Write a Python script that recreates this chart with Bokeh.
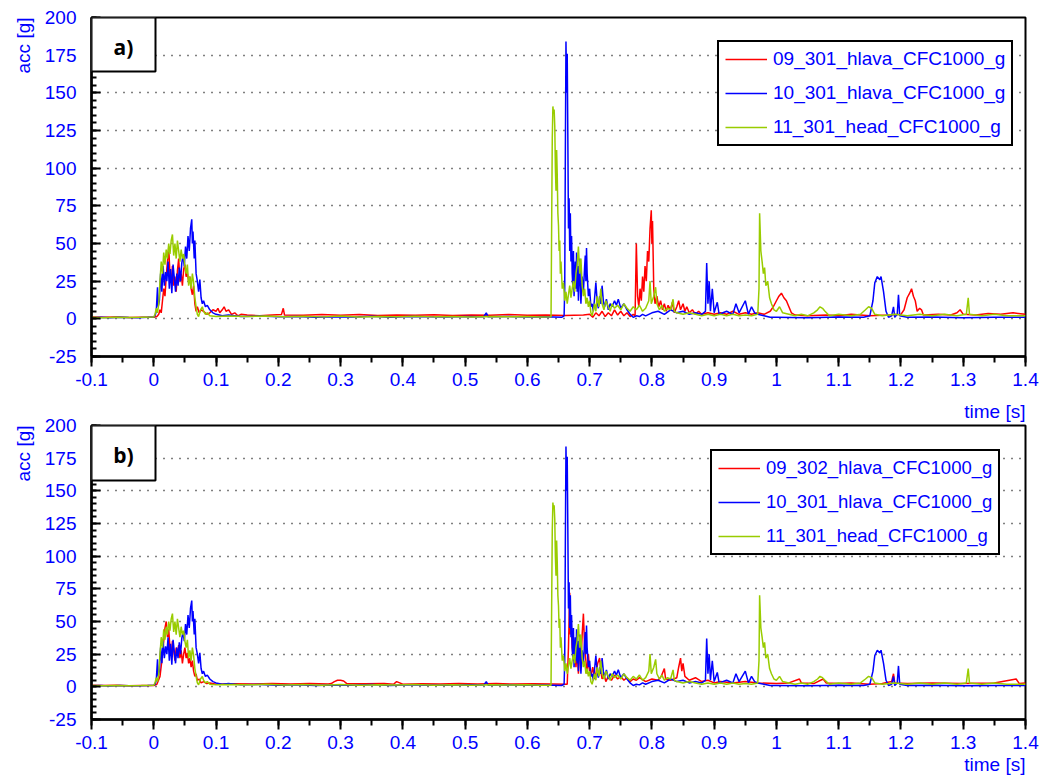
import numpy as np
from bokeh.plotting import figure
from bokeh.models import (Range1d, FixedTicker, Legend, LegendItem, BoxAnnotation,
                          Label, Title)
from bokeh.layouts import column
from bokeh.embed import file_html
from bokeh.resources import INLINE

# ---- axis ticks -----------------------------------------------------------
x_ticks = [-0.1, 0, 0.1, 0.2, 0.3, 0.4, 0.5, 0.6, 0.7, 0.8, 0.9, 1, 1.1, 1.2, 1.3, 1.4]
x_tick_labels = ["-0.1", "0", "0.1", "0.2", "0.3", "0.4", "0.5", "0.6", "0.7", "0.8",
                 "0.9", "1", "1.1", "1.2", "1.3", "1.4"]
y_ticks = [-25, 0, 25, 50, 75, 100, 125, 150, 175, 200]
y_tick_labels = ["-25", "0", "25", "50", "75", "100", "125", "150", "175", "200"]

# ---- measured head accelerations: (time [s], acc [g]) -----------------------
acc_10_301_hlava = [
    (-0.100, 0.8), (-0.085, 1.0), (-0.070, 0.7), (-0.055, 1.1), (-0.040, 0.9), (-0.025, 0.8),
    (-0.010, 1.0), (0.000, 1.2), (0.002, 2), (0.004, 5), (0.006, 21), (0.007, 8), (0.009, 12),
    (0.011, 30), (0.013, 18), (0.015, 35), (0.017, 22), (0.019, 31), (0.021, 25), (0.023, 38),
    (0.025, 20), (0.027, 33), (0.029, 17), (0.031, 36), (0.033, 27), (0.035, 18), (0.037, 30),
    (0.039, 22), (0.041, 34), (0.043, 25), (0.045, 37), (0.047, 42), (0.049, 35), (0.051, 48),
    (0.053, 40), (0.055, 55), (0.057, 45), (0.059, 60), (0.061, 66), (0.062, 50), (0.063, 58),
    (0.065, 40), (0.066, 52), (0.068, 30), (0.070, 25), (0.072, 18), (0.074, 26), (0.076, 14),
    (0.078, 10), (0.080, 12), (0.083, 8), (0.086, 9), (0.090, 6), (0.095, 4), (0.100, 3),
    (0.110, 2), (0.120, 2.5), (0.140, 1.5), (0.170, 1.8), (0.200, 1.3), (0.230, 1.6),
    (0.260, 1.0), (0.290, 1.4), (0.320, 1.2), (0.350, 1.7), (0.380, 1.1), (0.410, 1.5),
    (0.440, 1.3), (0.470, 1.2), (0.500, 1.6), (0.530, 1.4), (0.534, 4), (0.537, 1.3),
    (0.570, 1.5), (0.600, 1.2), (0.630, 1.4), (0.655, 1.0), (0.659, 2),
    (0.660, 20), (0.661, 110), (0.662, 184), (0.663, 150), (0.664, 176), (0.665, 120),
    (0.666, 60), (0.667, 80), (0.668, 45), (0.669, 70), (0.670, 38), (0.671, 55), (0.672, 30),
    (0.673, 22), (0.674, 45), (0.675, 15), (0.676, 28), (0.677, 38), (0.678, 20), (0.679, 44),
    (0.680, 18), (0.681, 35), (0.682, 12), (0.683, 30), (0.684, 40), (0.685, 22), (0.686, 10),
    (0.688, 28), (0.690, 18), (0.692, 35), (0.693, 42), (0.694, 25), (0.695, 47), (0.696, 30),
    (0.698, 15), (0.700, 20), (0.702, 8), (0.704, 10), (0.706, 5), (0.708, 14), (0.710, 24),
    (0.712, 12), (0.714, 7), (0.716, 15), (0.718, 10), (0.720, 22), (0.722, 12), (0.724, 8),
    (0.727, 13), (0.730, 6), (0.733, 10), (0.736, 8), (0.740, 12), (0.743, 9), (0.746, 13),
    (0.750, 7), (0.755, 10), (0.760, 6), (0.765, 3), (0.770, 1), (0.775, 2), (0.780, 1.5),
    (0.785, 3), (0.790, 2), (0.800, 4), (0.810, 5), (0.820, 3), (0.830, 6), (0.840, 4),
    (0.850, 5), (0.860, 3), (0.870, 4), (0.880, 3), (0.886, 5), (0.888, 37), (0.890, 10),
    (0.892, 25), (0.894, 5), (0.897, 20), (0.900, 4), (0.905, 11), (0.908, 3), (0.920, 5),
    (0.930, 3), (0.935, 10), (0.940, 4), (0.950, 12), (0.955, 3), (0.960, 8), (0.965, 4),
    (0.970, 3), (0.980, 2), (0.990, 1), (1.000, 1), (1.050, 0.8), (1.100, 1.2), (1.140, 1),
    (1.150, 2), (1.155, 12), (1.158, 24), (1.162, 28), (1.166, 26), (1.168, 28), (1.172, 18),
    (1.176, 5), (1.180, 1), (1.185, 2), (1.188, 8), (1.190, 1), (1.194, 3), (1.196, 16),
    (1.198, 2), (1.210, 1), (1.250, 1.2), (1.300, 0.8), (1.350, 1), (1.400, 1),
]

acc_11_301_head = [
    (-0.100, 1.0), (-0.080, 0.8), (-0.060, 1.1), (-0.040, 0.9), (-0.020, 1.0), (0.000, 1.2),
    (0.002, 3), (0.004, 7), (0.006, 4), (0.008, 10), (0.010, 25), (0.012, 38), (0.014, 30),
    (0.016, 44), (0.018, 36), (0.020, 46), (0.022, 40), (0.024, 50), (0.026, 43), (0.028, 52),
    (0.030, 56), (0.032, 42), (0.034, 50), (0.036, 40), (0.038, 52), (0.040, 45), (0.042, 38),
    (0.044, 46), (0.046, 40), (0.048, 43), (0.050, 35), (0.052, 30), (0.054, 36), (0.056, 22),
    (0.058, 28), (0.060, 20), (0.062, 30), (0.064, 24), (0.066, 14), (0.068, 8), (0.070, 3),
    (0.072, 1.5), (0.075, 6), (0.078, 8), (0.080, 5), (0.083, 3), (0.086, 4), (0.090, 2),
    (0.100, 1.5), (0.120, 1.8), (0.150, 1.5), (0.180, 1.9), (0.210, 1.4), (0.240, 1.7),
    (0.270, 1.3), (0.300, 1.8), (0.330, 1.2), (0.360, 1.6), (0.390, 1.4), (0.420, 1.7),
    (0.450, 1.3), (0.480, 1.5), (0.510, 1.2), (0.540, 1.6), (0.570, 1.4), (0.600, 1.5),
    (0.620, 1.2), (0.638, 1.3), (0.640, 120), (0.641, 141), (0.642, 136), (0.643, 139),
    (0.644, 128), (0.645, 100), (0.646, 85), (0.647, 112), (0.648, 95), (0.649, 70),
    (0.650, 62), (0.651, 45), (0.652, 52), (0.653, 30), (0.654, 38), (0.656, 20), (0.658, 24),
    (0.660, 12), (0.662, 18), (0.664, 10), (0.666, 16), (0.668, 22), (0.670, 14), (0.672, 20),
    (0.674, 25), (0.676, 18), (0.678, 30), (0.680, 36), (0.682, 48), (0.684, 30), (0.686, 40),
    (0.688, 22), (0.690, 15), (0.692, 20), (0.694, 10), (0.696, 14), (0.698, 8), (0.700, 12),
    (0.702, 4), (0.704, 2), (0.706, 6), (0.708, 10), (0.710, 5), (0.712, 15), (0.715, 8),
    (0.718, 20), (0.720, 10), (0.723, 6), (0.726, 12), (0.730, 8), (0.733, 5), (0.736, 10),
    (0.740, 7), (0.745, 9), (0.750, 6), (0.755, 10), (0.760, 7), (0.765, 5), (0.770, 8),
    (0.775, 6), (0.780, 9), (0.785, 5), (0.790, 7), (0.795, 12), (0.797, 25), (0.799, 10),
    (0.803, 15), (0.806, 21), (0.808, 10), (0.812, 6), (0.816, 9), (0.820, 5), (0.825, 7),
    (0.830, 6), (0.834, 13), (0.836, 5), (0.840, 4), (0.850, 3), (0.860, 4), (0.870, 3),
    (0.880, 2), (0.890, 3), (0.900, 2), (0.910, 3), (0.920, 2), (0.930, 3), (0.940, 2),
    (0.950, 2.5), (0.960, 2), (0.970, 3), (0.972, 20), (0.973, 70), (0.975, 45), (0.977, 38),
    (0.979, 30), (0.981, 34), (0.983, 22), (0.986, 25), (0.989, 14), (0.992, 10), (0.996, 6),
    (1.000, 5), (1.005, 8), (1.010, 4), (1.020, 3), (1.030, 2), (1.040, 3), (1.050, 2),
    (1.060, 4), (1.066, 6), (1.070, 8), (1.074, 7), (1.078, 5), (1.085, 2), (1.100, 3),
    (1.120, 2), (1.135, 3), (1.143, 6), (1.148, 8), (1.153, 7), (1.158, 3), (1.170, 2),
    (1.190, 3), (1.210, 2), (1.230, 3), (1.250, 2), (1.270, 3), (1.290, 2), (1.305, 3),
    (1.308, 14), (1.310, 3), (1.330, 2), (1.350, 3), (1.370, 2), (1.400, 2),
]

acc_09_301_hlava = [
    (-0.100, 1.2), (-0.080, 1.0), (-0.060, 1.3), (-0.040, 0.9), (-0.020, 1.1), (0.000, 1.0),
    (0.005, 1.5), (0.008, 3), (0.010, 6), (0.012, 4), (0.014, 12), (0.016, 20), (0.018, 15),
    (0.020, 28), (0.022, 38), (0.024, 47), (0.026, 30), (0.028, 24), (0.030, 35), (0.032, 22),
    (0.034, 28), (0.036, 18), (0.038, 32), (0.040, 40), (0.042, 25), (0.044, 30), (0.046, 22),
    (0.048, 33), (0.050, 36), (0.052, 28), (0.054, 30), (0.056, 25), (0.058, 28), (0.060, 20),
    (0.062, 16), (0.064, 22), (0.066, 10), (0.068, 5), (0.070, 8), (0.073, 4), (0.076, 6),
    (0.080, 5), (0.085, 3), (0.090, 4), (0.095, 6), (0.100, 5), (0.103, 7), (0.106, 4),
    (0.110, 6), (0.113, 8), (0.116, 5), (0.120, 6), (0.125, 3), (0.130, 4), (0.135, 2),
    (0.140, 3), (0.150, 2.5), (0.170, 2), (0.190, 2.5), (0.205, 2.8), (0.208, 7), (0.210, 2.5),
    (0.240, 2.3), (0.270, 2.8), (0.300, 2.4), (0.330, 2.9), (0.360, 2.2), (0.390, 2.6),
    (0.420, 2.3), (0.450, 2.7), (0.480, 2.2), (0.510, 2.6), (0.540, 2.4), (0.570, 2.8),
    (0.600, 2.3), (0.630, 2.5), (0.660, 2.2), (0.690, 2.6), (0.700, 3), (0.705, 1), (0.710, 4),
    (0.715, 2), (0.720, 5), (0.725, 1.5), (0.730, 4), (0.735, 2), (0.740, 6), (0.745, 2.5),
    (0.750, 5), (0.755, 2), (0.760, 4), (0.765, 1.5), (0.770, 3), (0.773, 2), (0.775, 50),
    (0.777, 15), (0.779, 8), (0.781, 20), (0.783, 12), (0.785, 28), (0.787, 18), (0.789, 35),
    (0.791, 25), (0.793, 45), (0.795, 38), (0.797, 60), (0.799, 72), (0.800, 50), (0.801, 65),
    (0.803, 20), (0.805, 10), (0.808, 15), (0.811, 8), (0.814, 12), (0.817, 6), (0.820, 10),
    (0.823, 5), (0.826, 9), (0.830, 6), (0.833, 11), (0.836, 4), (0.840, 8), (0.843, 12),
    (0.846, 6), (0.850, 10), (0.853, 5), (0.856, 8), (0.860, 4), (0.865, 6), (0.870, 3),
    (0.875, 5), (0.880, 3), (0.890, 4), (0.900, 3), (0.910, 4), (0.920, 3), (0.930, 5),
    (0.940, 3), (0.950, 4), (0.960, 3), (0.970, 4), (0.980, 3), (0.990, 5), (0.995, 8),
    (1.000, 12), (1.004, 15), (1.008, 17), (1.012, 14), (1.016, 12), (1.020, 8), (1.024, 4),
    (1.030, 2.5), (1.050, 2), (1.080, 2.5), (1.100, 2), (1.120, 3), (1.150, 2), (1.180, 2.5),
    (1.200, 3), (1.205, 6), (1.210, 14), (1.214, 17), (1.217, 20), (1.220, 15), (1.223, 12),
    (1.226, 5), (1.230, 7), (1.233, 6), (1.236, 2.5), (1.260, 3), (1.280, 2.5), (1.290, 4),
    (1.295, 6), (1.300, 3), (1.320, 2.5), (1.340, 3.5), (1.360, 3), (1.380, 4), (1.400, 3),
]

acc_09_302_hlava = [
    (-0.100, 1.2), (-0.080, 1.0), (-0.060, 1.3), (-0.040, 0.9), (-0.020, 1.1), (0.000, 1.0),
    (0.005, 2), (0.010, 8), (0.013, 20), (0.016, 35), (0.018, 45), (0.020, 50), (0.022, 38),
    (0.024, 44), (0.026, 30), (0.028, 25), (0.030, 35), (0.032, 28), (0.034, 20), (0.036, 30),
    (0.038, 25), (0.040, 32), (0.042, 22), (0.044, 28), (0.046, 18), (0.048, 25), (0.050, 30),
    (0.052, 22), (0.054, 26), (0.056, 18), (0.058, 22), (0.060, 15), (0.062, 20), (0.064, 12),
    (0.066, 8), (0.068, 10), (0.070, 5), (0.073, 6), (0.076, 3), (0.080, 4), (0.085, 2.5),
    (0.090, 3), (0.100, 2), (0.130, 2.4), (0.160, 2.1), (0.190, 2.6), (0.220, 2.2),
    (0.250, 2.5), (0.280, 2.2), (0.285, 2.5), (0.290, 4), (0.295, 5), (0.300, 5), (0.305, 4.5),
    (0.310, 2.5), (0.340, 2.3), (0.370, 2.6), (0.385, 2), (0.390, 4), (0.395, 3), (0.400, 2),
    (0.430, 2.4), (0.460, 2.1), (0.490, 2.6), (0.520, 2.2), (0.550, 2.5), (0.580, 2.1),
    (0.610, 2.4), (0.640, 2.2), (0.664, 2), (0.666, 30), (0.668, 72), (0.669, 40), (0.670, 55),
    (0.672, 30), (0.674, 20), (0.676, 35), (0.678, 15), (0.680, 25), (0.682, 10), (0.684, 30),
    (0.686, 18), (0.688, 40), (0.690, 56), (0.692, 30), (0.694, 20), (0.696, 10), (0.698, 25),
    (0.700, 12), (0.702, 8), (0.705, 15), (0.708, 6), (0.710, 10), (0.713, 18), (0.716, 22),
    (0.718, 12), (0.720, 6), (0.723, 10), (0.726, 4), (0.730, 8), (0.735, 5), (0.740, 9),
    (0.745, 6), (0.750, 8), (0.755, 5), (0.760, 7), (0.765, 4), (0.770, 6), (0.775, 5),
    (0.780, 7), (0.790, 4), (0.800, 6), (0.810, 5), (0.815, 8), (0.820, 14), (0.822, 6),
    (0.830, 5), (0.840, 7), (0.843, 15), (0.846, 22), (0.848, 12), (0.850, 18), (0.853, 8),
    (0.860, 5), (0.870, 7), (0.880, 4), (0.890, 5), (0.900, 3), (0.910, 4), (0.930, 3),
    (0.950, 4), (0.970, 3), (1.000, 2.5), (1.020, 3), (1.037, 6), (1.040, 3), (1.060, 2.5),
    (1.075, 6), (1.080, 3), (1.100, 2.5), (1.120, 3), (1.150, 2), (1.170, 2.5), (1.185, 4),
    (1.188, 10), (1.190, 3), (1.210, 2.5), (1.250, 3), (1.300, 2.5), (1.350, 3), (1.385, 6),
    (1.390, 2.5), (1.400, 3),
]

RED, BLUE, GREEN = "#ff0000", "#0000ff", "#99cc00"
TEXT_BLUE = "#0000ff"
FONT = "Liberation Sans"
FONT_SIZE = "19px"

X_START, X_END = -0.1, 1.4
Y_START, Y_END = -25, 200
FRAME_W = 934


def unzip(pairs):
    arr = np.array(pairs, dtype=float)
    return arr[:, 0], arr[:, 1]


def axis_title(text, standoff):
    return Title(text=text, align="right", text_font=FONT, text_font_size=FONT_SIZE,
                 text_font_style="normal", text_color=TEXT_BLUE, standoff=standoff)


def make_panel(tag, red_label, red_pairs, frame_h, legend_loc, legend_font,
               border_top, border_bottom, tag_box_h):
    p = figure(frame_width=FRAME_W, frame_height=frame_h,
               x_range=Range1d(X_START, X_END), y_range=Range1d(Y_START, Y_END),
               output_backend="svg", toolbar_location=None,
               min_border_left=91, min_border_right=15,
               min_border_top=border_top, min_border_bottom=border_bottom,
               background_fill_color="white", border_fill_color="white")
    p.outline_line_color = "black"
    p.outline_line_alpha = 1.0
    p.outline_line_width = 2

    # x axis: outward ticks, minor every 0.05 s
    xminor = [round(v, 3) for v in np.arange(-0.1, 1.4001, 0.05)]
    p.xaxis.ticker = FixedTicker(ticks=x_ticks, minor_ticks=xminor)
    p.xaxis.major_label_overrides = dict(zip(x_ticks, x_tick_labels))
    p.xaxis.axis_line_width = 2.5
    p.xaxis.major_tick_line_width = 2
    p.xaxis.minor_tick_line_width = 2
    p.xaxis.major_tick_out = 10
    p.xaxis.major_tick_in = 0
    p.xaxis.minor_tick_out = 6
    p.xaxis.minor_tick_in = 0
    p.xaxis.major_label_standoff = 6

    # y axis: inward ticks, minor every 5 g
    yminor = list(range(-25, 201, 5))
    p.yaxis.ticker = FixedTicker(ticks=y_ticks, minor_ticks=yminor)
    p.yaxis.major_label_overrides = dict(zip(y_ticks, y_tick_labels))
    p.yaxis.axis_line_width = 2.5
    p.yaxis.major_tick_line_width = 2
    p.yaxis.minor_tick_line_width = 2
    p.yaxis.major_tick_in = 9
    p.yaxis.major_tick_out = 0
    p.yaxis.minor_tick_in = 5
    p.yaxis.minor_tick_out = 0
    p.yaxis.major_label_standoff = 15

    for ax in (p.xaxis, p.yaxis):
        ax.major_label_text_color = TEXT_BLUE
        ax.major_label_text_font = FONT
        ax.major_label_text_font_size = FONT_SIZE
        ax.axis_line_color = "black"

    p.xgrid.visible = False
    p.ygrid.ticker = FixedTicker(ticks=y_ticks)
    p.ygrid.grid_line_color = "black"
    p.ygrid.grid_line_alpha = 1.0
    p.ygrid.grid_line_dash = "1 7"
    p.ygrid.grid_line_width = 1.3

    series = [(red_label, red_pairs, RED),
              ("10_301_hlava_CFC1000_g", acc_10_301_hlava, BLUE),
              ("11_301_head_CFC1000_g", acc_11_301_head, GREEN)]
    items = []
    for label, pairs, color in series:
        t, g = unzip(pairs)
        r = p.line(t, g, line_color=color, line_width=1.5)
        items.append(LegendItem(label=label, renderers=[r]))

    legend = Legend(items=items, location=legend_loc,
                    border_line_color="black", border_line_alpha=1.0, border_line_width=2,
                    background_fill_color="white", background_fill_alpha=1.0,
                    label_text_color=TEXT_BLUE, label_text_font=FONT,
                    label_text_font_size=legend_font,
                    glyph_width=42, glyph_height=20, label_height=20,
                    spacing=12, padding=6, label_standoff=6, margin=0)
    p.add_layout(legend)

    # panel tag in the upper-left corner
    xs_per_px = (X_END - X_START) / FRAME_W
    ys_per_px = (Y_END - Y_START) / frame_h
    tag_box_w = 64
    p.add_layout(BoxAnnotation(left=X_START, right=X_START + tag_box_w * xs_per_px,
                               top=Y_END, bottom=Y_END - tag_box_h * ys_per_px,
                               fill_color="white", fill_alpha=1.0,
                               line_color="black", line_alpha=1.0, line_width=2))
    p.add_layout(Label(x=X_START, y=Y_END, x_offset=tag_box_w / 2, y_offset=-tag_box_h / 2 - 2,
                       text=tag, text_font="Open Sans", text_font_style="bold",
                       text_font_size="21px", text_color="black",
                       text_align="center", text_baseline="middle"))

    p.add_layout(axis_title("acc [g]", 16), "left")
    return p


pa = make_panel("a)", "09_301_hlava_CFC1000_g", acc_09_301_hlava, 339, (626, 210), "19px",
                17, 38, 54)
pb = make_panel("b)", "09_302_hlava_CFC1000_g", acc_09_302_hlava, 294, (619, 164), "18.5px",
                30, 60, 55)

# the upper panel's time caption sits in the gap between the two panels
pb.add_layout(axis_title("time [s]", 8), "above")
pb.add_layout(axis_title("time [s]", 0), "below")

layout = column(pa, pb, spacing=0)
open("out.html", "w").write(file_html(layout, INLINE))
